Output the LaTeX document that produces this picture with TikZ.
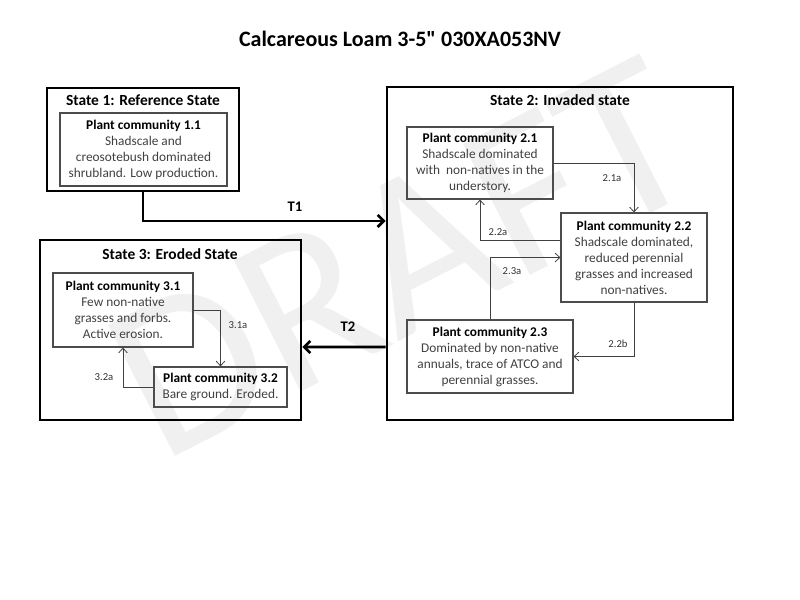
\documentclass[tikz,border=0pt]{standalone}
\usepackage{fontspec}
\setmainfont{Carlito}
\usetikzlibrary{arrows.meta, positioning}
\font\quotefont="Carlito/B" at 16.5pt

\begin{document}
\begin{tikzpicture}[x=0.75pt, y=-0.75pt,
    state/.style = {draw, line width=2.2pt, inner sep=0pt},
    pc/.style = {draw=black!70, line width=0.9pt, align=center, text=black!75,
        font=\fontsize{10}{12}\selectfont, inner sep=2pt},
    statetitle/.style = {font=\bfseries\fontsize{11.6}{14}\selectfont},
    pcpath/.style = {draw=black!75, line width=0.6pt, -{Straight Barb[length=3.5pt,width=6.5pt]}},
    trans/.style = {line width=2.2pt, -{Straight Barb[length=4.5pt,width=9pt,line width=2pt]}},
    pathlabel/.style = {font=\fontsize{8}{9}\selectfont, text=black!80}]
    \newcommand{\pchead}[1]{\textcolor{black}{\textbf{#1}}}
    % Area
    \useasboundingbox (0,0) rectangle (800,600);
    % Filigrana
    \node[rotate=27, text=black!6, font=\fontsize{172}{172}\selectfont] (draft) at (402,258) {DRAFT};
    % Titolo
    \node[font=\bfseries\fontsize{16.5}{19}\selectfont] (title) at (400,39) {Calcareous Loam 3-5{\quotefont\char34} 030XA053NV};

    % Stati
    \node[state, minimum width=144pt, minimum height=77.25pt] (s1) at (143,139.5) {};
    \node[state, minimum width=259.5pt, minimum height=249.75pt] (s2) at (560,253.5) {};
    \node[state, minimum width=195.75pt, minimum height=135pt] (s3) at (170.5,330) {};
    \node[statetitle] (t1) at (143,100) {State 1: Reference State};
    \node[statetitle] (t2) at (560,100) {State 2: Invaded state};
    \node[statetitle] (t3) at (170,254) {State 3: Eroded State};

    % Comunita
    \node[pc, minimum width=125.25pt, minimum height=54.75pt] (pc11) at (143.5,149.5)
        {\pchead{Plant community 1.1}\\Shadscale and\\creosotebush dominated\\shrubland. Low production.};
    \node[pc, minimum width=109.5pt, minimum height=54pt] (pc21) at (480,163)
        {\pchead{Plant community 2.1}\\Shadscale dominated\\with\ \ non-natives in the\\understory.};
    \node[pc, minimum width=109.5pt, minimum height=66.75pt] (pc22) at (634,257.5)
        {\pchead{Plant community 2.2}\\Shadscale dominated,\\reduced perennial\\grasses and increased\\non-natives.};
    \node[pc, minimum width=124.5pt, minimum height=54.75pt] (pc23) at (490,356.5)
        {\pchead{Plant community 2.3}\\Dominated by non-native\\annuals, trace of ATCO and\\perennial grasses.};
    \node[pc, minimum width=105pt, minimum height=55.5pt] (pc31) at (123,310)
        {\pchead{Plant community 3.1}\\Few non-native\\grasses and forbs.\\Active erosion.};
    \node[pc, minimum width=99.75pt, minimum height=30pt] (pc32) at (220.5,387)
        {\pchead{Plant community 3.2}\\Bare ground. Eroded.};

    % Transizioni
    \draw[trans] (s1.south) |- ([yshift=24.4pt]s2.west);
    \draw[trans] ([yshift=-70.1pt]s2.west) -- ([yshift=-12.75pt]s3.east);
    \node[font=\bfseries\fontsize{11}{13}\selectfont] (T1) at (295,207) {T1};
    \node[font=\bfseries\fontsize{11}{13}\selectfont] (T2) at (348,327) {T2};

    % Percorsi interni
    \draw[pcpath] (pc21.east) -| (pc22.north);
    \draw[pcpath] ([yshift=13.1pt]pc22.west) -| (pc21.south);
    \draw[pcpath] (pc23.north) |- (pc22.west);
    \draw[pcpath] (pc22.south) |- (pc23.east);
    \draw[pcpath] (pc31.east) -| (pc32.north);
    \draw[pcpath] (pc32.west) -| (pc31.south);
    \node[pathlabel] (l21a) at (612,178) {2.1a};
    \node[pathlabel] (l22a) at (498,232) {2.2a};
    \node[pathlabel] (l23a) at (512,271) {2.3a};
    \node[pathlabel] (l22b) at (618,344) {2.2b};
    \node[pathlabel] (l31a) at (238,325) {3.1a};
    \node[pathlabel] (l32a) at (104,377) {3.2a};
\end{tikzpicture}
\end{document}
